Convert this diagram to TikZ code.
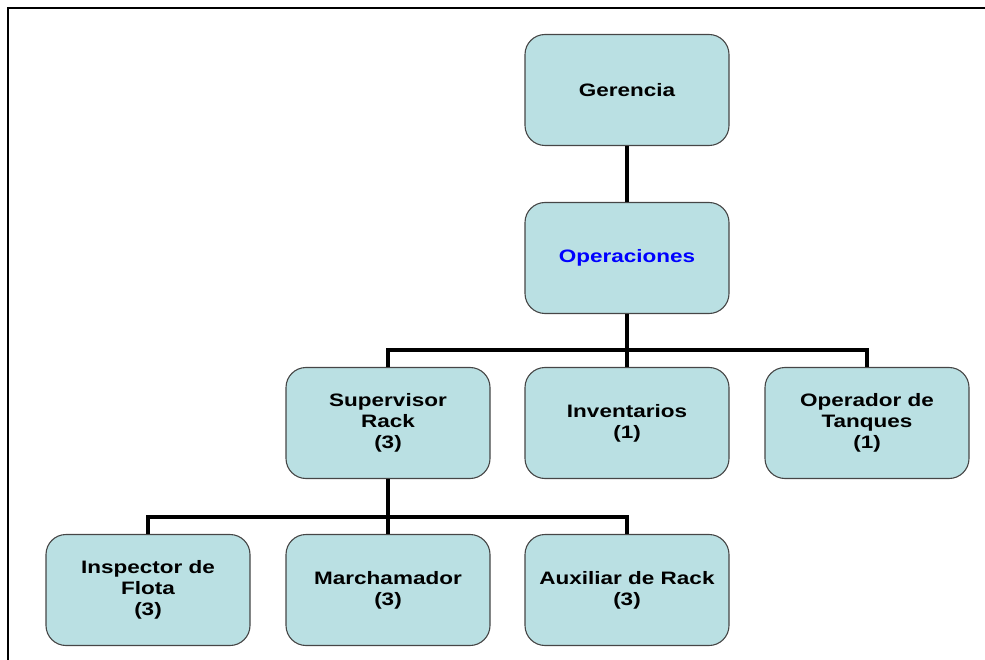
\documentclass[tikz,border=0pt]{standalone}
\usepackage{fontspec}
\setmainfont{Liberation Sans}
\newfontfamily\orgfont[FakeStretch=1.25]{Liberation Sans}
\usepackage{xcolor}
\usepackage{tikz}
\usetikzlibrary{positioning}

\definecolor{cajafondo}{RGB}{186,224,227}
\definecolor{cajaborde}{RGB}{70,70,70}

\begin{document}
\begin{tikzpicture}[
  x=1pt, y=-1pt,
  puesto/.style={draw=cajaborde, line width=1.1pt, fill=cajafondo, rounded corners=20pt,
                 minimum width=204pt, minimum height=111pt, inner sep=0pt,
                 font=\orgfont\bfseries\fontsize{18}{21}\selectfont, align=center},
  linea/.style={line width=4pt},
  marco/.style={line width=2pt}
]
  \useasboundingbox (0,0) rectangle (985,660);
  \draw[marco] (8,660) -- (8,8) -- (985,8);

  % Direccion
  \node[puesto] (gerencia) at (627,90) {Gerencia};
  \node[puesto, text=blue] (oper) at (627,258) {Operaciones};

  % Segundo nivel
  \node[puesto] (super) at (388,423) {Supervisor\\Rack\\(3)};
  \node[puesto] (invent) at (627,423) {Inventarios\\(1)};
  \node[puesto] (tanques) at (867,423) {Operador de\\Tanques\\(1)};

  % Tercer nivel
  \node[puesto] (inspector) at (148,590) {Inspector de\\Flota\\(3)};
  \node[puesto] (marcha) at (388,590) {Marchamador\\(3)};
  \node[puesto] (auxiliar) at (627,590) {Auxiliar de Rack\\(3)};

  \coordinate (bus1) at (627,350);
  \coordinate (bus2) at (388,517);

  \draw[linea] (gerencia) -- (oper);
  \draw[linea] (oper) -- (bus1);
  \draw[linea] (bus1) -| (super.north);
  \draw[linea] (bus1) -- (invent);
  \draw[linea] (bus1) -| (tanques.north);
  \draw[linea] (super) -- (bus2);
  \draw[linea] (bus2) -| (inspector.north);
  \draw[linea] (bus2) -- (marcha);
  \draw[linea] (bus2) -| (auxiliar.north);
\end{tikzpicture}
\end{document}
